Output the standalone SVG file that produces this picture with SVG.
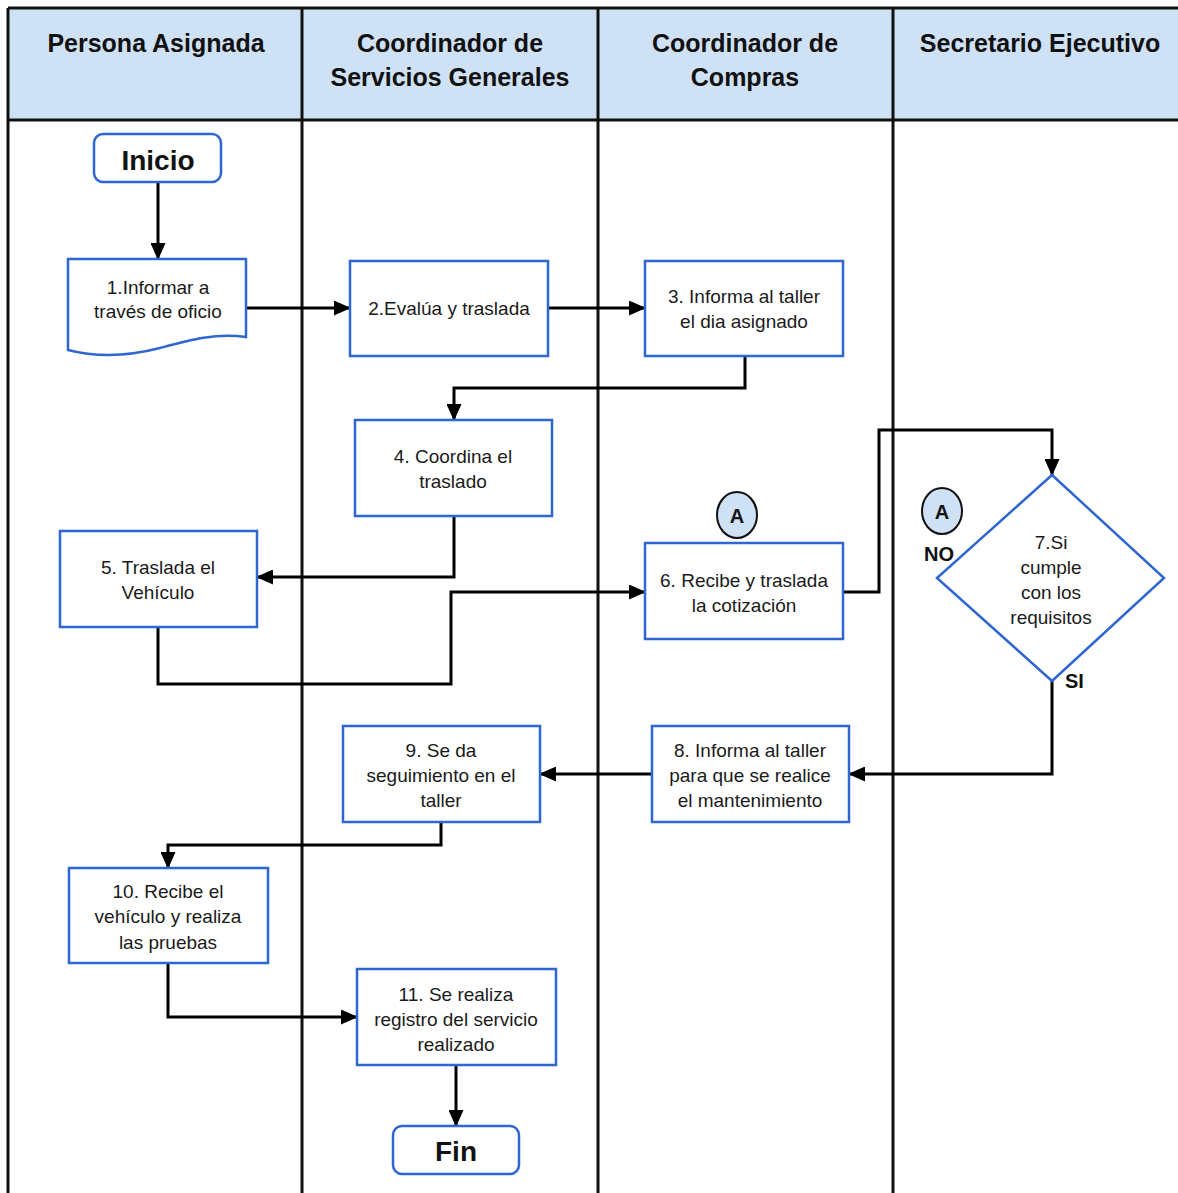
<svg xmlns="http://www.w3.org/2000/svg" width="1178" height="1193" viewBox="0 0 1178 1193">
  <defs>
    <marker id="arrow" viewBox="0 0 17 15" refX="16" refY="7.5" markerWidth="17" markerHeight="15" markerUnits="userSpaceOnUse" orient="auto">
      <path d="M0,0 L17,7.5 L0,15 Z" fill="#000"/>
    </marker>
    <style>
      .lane { stroke: #111; stroke-width: 3; fill: none; }
      .hdr { fill: #cfe2f5; }
      .hdrtxt { font-family: "Liberation Sans", Arial, sans-serif; font-weight: bold; font-size: 25px; fill: #111; text-anchor: middle; }
      .box { fill: #fff; stroke: #2f66d0; stroke-width: 2.5; }
      .term { fill: #fff; stroke: #2f66d0; stroke-width: 2.5; }
      .txt { font-family: "Liberation Sans", Arial, sans-serif; font-size: 19px; fill: #1a1a1a; text-anchor: middle; }
      .big { font-family: "Liberation Sans", Arial, sans-serif; font-weight: bold; font-size: 28px; fill: #111; text-anchor: middle; }
      .lbl { font-family: "Liberation Sans", Arial, sans-serif; font-weight: bold; font-size: 20px; fill: #111; }
      .conn { fill: #cfe2f5; stroke: #111; stroke-width: 2; }
      .edge { fill: none; stroke: #000; stroke-width: 3; marker-end: url(#arrow); }
    </style>
  </defs>

  <rect width="1178" height="1193" fill="#fff"/>

  <!-- swimlane frame and headers -->
  <g id="lanes">
    <rect class="hdr" x="8" y="8" width="1170" height="112"/>
    <line class="lane" x1="8" y1="8" x2="1178" y2="8"/>
    <line class="lane" x1="8" y1="120" x2="1178" y2="120"/>
    <line class="lane" x1="8" y1="8" x2="8" y2="1193"/>
    <line class="lane" x1="302" y1="8" x2="302" y2="1193"/>
    <line class="lane" x1="598" y1="8" x2="598" y2="1193"/>
    <line class="lane" x1="893" y1="8" x2="893" y2="1193"/>
    <text class="hdrtxt" x="156" y="52">Persona Asignada</text>
    <text class="hdrtxt" x="450" y="52">Coordinador de</text>
    <text class="hdrtxt" x="450" y="86">Servicios Generales</text>
    <text class="hdrtxt" x="745" y="52">Coordinador de</text>
    <text class="hdrtxt" x="745" y="86">Compras</text>
    <text class="hdrtxt" x="1040" y="52">Secretario Ejecutivo</text>
  </g>

  <!-- connectors -->
  <g id="connectors">
    <path class="edge" d="M158,182 V259"/>
    <path class="edge" d="M246,308 H350"/>
    <path class="edge" d="M548,308 H645"/>
    <path class="edge" d="M745,356 V388 H454 V420"/>
    <path class="edge" d="M454,516 V577 H257"/>
    <path class="edge" d="M158,627 V684 H451 V592 H645"/>
    <path class="edge" d="M843,592 H879 V430 H1052 V475"/>
    <path class="edge" d="M1052,681 V774 H849"/>
    <path class="edge" d="M652,774 H540"/>
    <path class="edge" d="M441,822 V845 H168 V868"/>
    <path class="edge" d="M168,963 V1017 H357"/>
    <path class="edge" d="M456,1065 V1126"/>
  </g>

  <!-- nodes -->
  <g id="inicio">
    <rect class="term" x="94" y="134" width="127" height="48" rx="9"/>
    <text class="big" x="158" y="170">Inicio</text>
  </g>
  <g id="n1">
    <path class="box" d="M68,259 H246 V337 C215,333 190,340 160,348 C125,357 95,357 68,350 Z"/>
    <text class="txt" x="158" y="294">1.Informar a</text>
    <text class="txt" x="158" y="318">través de oficio</text>
  </g>
  <g id="n2">
    <rect class="box" x="350" y="261" width="198" height="95"/>
    <text class="txt" x="449" y="315">2.Evalúa y traslada</text>
  </g>
  <g id="n3">
    <rect class="box" x="645" y="261" width="198" height="95"/>
    <text class="txt" x="744" y="303">3. Informa al taller</text>
    <text class="txt" x="744" y="328">el dia asignado</text>
  </g>
  <g id="n4">
    <rect class="box" x="355" y="420" width="197" height="96"/>
    <text class="txt" x="453" y="463">4. Coordina el</text>
    <text class="txt" x="453" y="488">traslado</text>
  </g>
  <g id="n5">
    <rect class="box" x="60" y="531" width="197" height="96"/>
    <text class="txt" x="158" y="574">5. Traslada el</text>
    <text class="txt" x="158" y="599">Vehículo</text>
  </g>
  <g id="n6">
    <rect class="box" x="645" y="543" width="198" height="96"/>
    <text class="txt" x="744" y="587">6. Recibe y traslada</text>
    <text class="txt" x="744" y="612">la cotización</text>
  </g>
  <g id="connA1">
    <ellipse class="conn" cx="737" cy="515" rx="20" ry="23"/>
    <text class="lbl" x="737" y="523" text-anchor="middle">A</text>
  </g>
  <g id="connA2">
    <ellipse class="conn" cx="942" cy="511" rx="20" ry="23"/>
    <text class="lbl" x="942" y="519" text-anchor="middle">A</text>
  </g>
  <g id="n7">
    <path class="box" d="M1052,475 L1164,578 L1052,681 L937,578 Z"/>
    <text class="txt" x="1051" y="549">7.Si</text>
    <text class="txt" x="1051" y="574">cumple</text>
    <text class="txt" x="1051" y="599">con los</text>
    <text class="txt" x="1051" y="624">requisitos</text>
    <text class="lbl" x="924" y="561">NO</text>
    <text class="lbl" x="1065" y="688">SI</text>
  </g>
  <g id="n8">
    <rect class="box" x="652" y="726" width="197" height="96"/>
    <text class="txt" x="750" y="757">8. Informa al taller</text>
    <text class="txt" x="750" y="782">para que se realice</text>
    <text class="txt" x="750" y="807">el mantenimiento</text>
  </g>
  <g id="n9">
    <rect class="box" x="343" y="726" width="197" height="96"/>
    <text class="txt" x="441" y="757">9. Se da</text>
    <text class="txt" x="441" y="782">seguimiento en el</text>
    <text class="txt" x="441" y="807">taller</text>
  </g>
  <g id="n10">
    <rect class="box" x="69" y="868" width="199" height="95"/>
    <text class="txt" x="168" y="898">10. Recibe el</text>
    <text class="txt" x="168" y="923">vehículo y realiza</text>
    <text class="txt" x="168" y="949">las pruebas</text>
  </g>
  <g id="n11">
    <rect class="box" x="357" y="969" width="199" height="96"/>
    <text class="txt" x="456" y="1001">11. Se realiza</text>
    <text class="txt" x="456" y="1026">registro del servicio</text>
    <text class="txt" x="456" y="1051">realizado</text>
  </g>
  <g id="fin">
    <rect class="term" x="393" y="1126" width="126" height="48" rx="9"/>
    <text class="big" x="456" y="1161">Fin</text>
  </g>
</svg>
